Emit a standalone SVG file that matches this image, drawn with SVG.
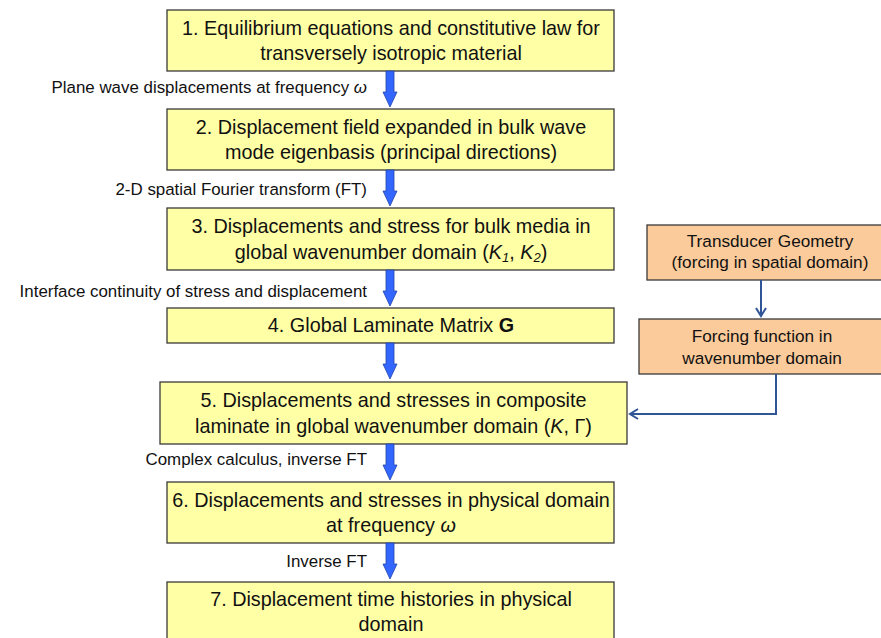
<svg xmlns="http://www.w3.org/2000/svg" width="881" height="638" viewBox="0 0 881 638">
<defs>
<style>
.box{fill:#FFFFA6;stroke:#3a3a3a;stroke-width:1.3}
.obox{fill:#FBCB9B;stroke:#3a3a3a;stroke-width:1.3}
.t{font-family:"Liberation Sans",Arial,sans-serif;font-size:19.8px;fill:#111;text-anchor:middle}
.ot{font-family:"Liberation Sans",Arial,sans-serif;font-size:17.2px;fill:#111;text-anchor:middle}
.lbl{font-family:"Liberation Sans",Arial,sans-serif;font-size:16.9px;fill:#111;text-anchor:end}
.barrow{fill:#3366FF;stroke:#2244AA;stroke-width:0.8}
.conn{fill:none;stroke:#2F5597;stroke-width:2}
</style>
<marker id="ah" markerWidth="12" markerHeight="12" refX="9" refY="6" orient="auto" markerUnits="userSpaceOnUse">
<path d="M1,1 L9,6 L1,11" fill="none" stroke="#2F5597" stroke-width="2"/>
</marker>
<path id="ba" d="M-4,0 L4,0 L4,21 L7,21 L0,36 L-7,21 L-4,21 Z"/>
</defs>
<rect width="881" height="638" fill="#fff"/>

<g id="n1"><rect class="box" x="167" y="10" width="447" height="61"/>
<text class="t" x="391" y="35">1. Equilibrium equations and constitutive law for</text>
<text class="t" x="391" y="60">transversely isotropic material</text></g>

<g id="n2"><rect class="box" x="167" y="109" width="447" height="61"/>
<text class="t" x="391" y="134">2. Displacement field expanded in bulk wave</text>
<text class="t" x="391" y="159">mode eigenbasis (principal directions)</text></g>

<g id="n3"><rect class="box" x="167" y="208" width="447" height="62"/>
<text class="t" x="391" y="233">3. Displacements and stress for bulk media in</text>
<text class="t" x="391" y="259">global wavenumber domain (<tspan font-style="italic">K</tspan><tspan font-style="italic" font-size="13" dy="3">1</tspan><tspan dy="-3">, </tspan><tspan font-style="italic">K</tspan><tspan font-style="italic" font-size="13" dy="3">2</tspan><tspan dy="-3">)</tspan></text></g>

<g id="n4"><rect class="box" x="167" y="308" width="447" height="35"/>
<text class="t" x="391" y="332">4. Global Laminate Matrix <tspan font-weight="bold">G</tspan></text></g>

<g id="n5"><rect class="box" x="160" y="382" width="467" height="62"/>
<text class="t" x="393.5" y="407">5. Displacements and stresses in composite</text>
<text class="t" x="393.5" y="433">laminate in global wavenumber domain (<tspan font-style="italic">K</tspan>, Γ)</text></g>

<g id="n6"><rect class="box" x="167" y="482" width="447" height="61"/>
<text class="t" x="391" y="507">6. Displacements and stresses in physical domain</text>
<text class="t" x="391" y="532">at frequency <tspan font-style="italic">ω</tspan></text></g>

<g id="n7"><rect class="box" x="167" y="582" width="447" height="70"/>
<text class="t" x="391" y="606">7. Displacement time histories in physical</text>
<text class="t" x="391" y="631">domain</text></g>

<g id="n8"><rect class="obox" x="647" y="225" width="240" height="55"/>
<text class="ot" x="770" y="247">Transducer Geometry</text>
<text class="ot" x="770" y="268">(forcing in spatial domain)</text></g>

<g id="n9"><rect class="obox" x="639" y="319" width="248" height="55"/>
<text class="ot" x="762" y="342">Forcing function in</text>
<text class="ot" x="762" y="364">wavenumber domain</text></g>

<g id="connectors">
<use href="#ba" class="barrow" x="390" y="71"/>
<use href="#ba" class="barrow" x="390" y="170"/>
<use href="#ba" class="barrow" x="390" y="270"/>
<use href="#ba" class="barrow" x="390" y="343"/>
<use href="#ba" class="barrow" x="390" y="444"/>
<use href="#ba" class="barrow" x="390" y="543"/>
<line class="conn" x1="761" y1="280" x2="761" y2="316" marker-end="url(#ah)"/>
<polyline class="conn" points="776,374 776,414 630,414" marker-end="url(#ah)"/>
</g>

<g id="labels">
<text class="lbl" x="367" y="93">Plane wave displacements at frequency <tspan font-style="italic">ω</tspan></text>
<text class="lbl" x="367" y="195">2-D spatial Fourier transform (FT)</text>
<text class="lbl" x="367" y="297">Interface continuity of stress and displacement</text>
<text class="lbl" x="367" y="465">Complex calculus, inverse FT</text>
<text class="lbl" x="367" y="567">Inverse FT</text>
</g>
</svg>
